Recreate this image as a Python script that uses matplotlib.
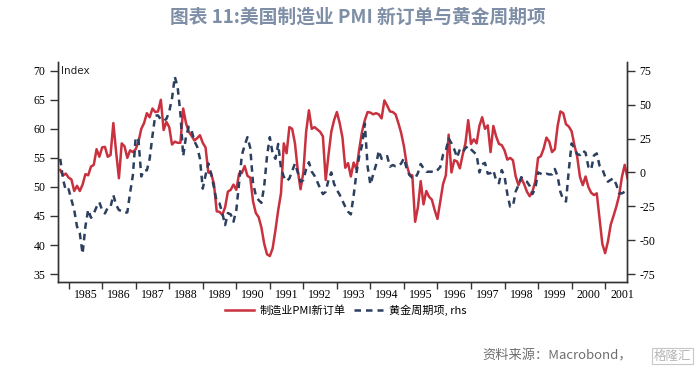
import numpy as np
import matplotlib
matplotlib.use('Agg')
import matplotlib.pyplot as plt
import matplotlib.transforms as mtransforms

plt.rcParams['font.family'] = ['Noto Sans CJK SC', 'DejaVu Sans']

# monthly values, first month = Oct of the first labelled year minus one
start_year = 1984.75
pmi_new_orders = [
    52.9, 52.0, 52.3, 51.6, 51.3, 49.3, 50.2, 49.3, 50.4, 52.2, 52.0, 53.5,
    53.8, 56.5, 55.2, 56.8, 56.9, 55.2, 55.5, 61.0, 56.0, 51.5, 57.5, 57.0,
    55.0, 56.3, 56.0, 56.5, 57.8, 60.0, 61.0, 62.7, 62.0, 63.5, 62.9, 63.0,
    65.0, 59.8, 61.2, 60.3, 57.3, 57.8, 57.6, 57.6, 63.5, 61.0, 59.5, 58.8,
    58.0, 58.4, 58.9, 57.6, 56.8, 52.5, 52.3, 50.5, 45.8, 45.7, 45.2, 46.5,
    49.2, 49.5, 50.4, 49.5, 52.3, 52.4, 53.6, 51.9, 51.6, 47.5, 45.5, 44.8,
    43.0, 40.2, 38.4, 38.1, 39.4, 42.5, 46.0, 48.9, 57.5, 55.8, 60.3, 60.0,
    57.5, 52.9, 49.6, 52.5, 59.5, 63.2, 60.0, 60.3, 59.9, 59.5, 58.7, 51.2,
    55.5, 59.5, 61.5, 62.9, 61.0, 58.5, 53.3, 54.1, 51.8, 54.2, 53.0, 56.5,
    59.5, 61.5, 62.9, 62.8, 62.5, 62.7, 62.5, 61.8, 64.9, 64.0, 63.0, 62.9,
    62.5, 61.0, 59.3, 57.0, 53.8, 52.1, 52.0, 44.0, 46.5, 51.0, 47.0, 49.3,
    48.3, 47.8, 46.0, 44.5, 47.5, 50.5, 52.0, 59.0, 52.5, 54.6, 54.4, 53.2,
    55.5, 57.5, 61.5, 57.4, 58.2, 57.5, 60.5, 62.0, 60.0, 60.6, 56.0, 60.5,
    58.7, 57.4, 57.2, 56.3, 54.7, 55.0, 54.6, 51.8, 50.3, 51.5, 50.5, 49.2,
    48.4, 49.2, 51.0, 55.0, 55.3, 56.6, 58.5, 57.8, 56.0, 56.5, 60.5, 63.0,
    62.7, 60.8, 60.4, 59.6, 57.2, 55.2, 51.7, 50.3, 51.8, 50.0, 49.0, 48.6,
    48.9, 44.5, 40.2, 38.6, 40.6, 43.5, 45.0, 46.6, 48.5, 51.7, 53.8, 51.5,
]
gold_cycle = [
    10.0, -5.0, -13.5, -12.5, -20.0, -27.8, -40.0, -45.0, -60.0, -40.0, -27.5, -33.5,
    -30.3, -25.5, -22.0, -28.0, -30.3, -26.0, -25.5, -16.7, -24.0, -27.8, -28.5, -30.0,
    -29.5, -15.0, -2.0, 26.0, 24.0, -3.0, 1.7, 1.5, 10.0, 27.0, 42.0, 42.0,
    39.0, 38.0, 39.5, 44.8, 54.6, 70.6, 63.0, 43.5, 12.0, 26.3, 33.7, 31.0,
    23.0, 19.0, 10.0, -12.0, -2.0, 6.6, -1.0, -11.0, -21.6, -22.9, -30.0, -38.9,
    -30.0, -31.0, -36.4, -28.0, -8.0, 12.8, 20.0, 26.0, 18.0, -8.0, -17.0, -20.5,
    -22.5, -10.0, 12.0, 26.0, 14.0, 10.0, 21.0, 3.0, -3.2, -6.5, -4.5, 1.0,
    6.5, 0.0, -7.0, -5.7, 2.5, 7.5, 0.5, -2.5, -7.0, -11.8, -16.0, -14.3,
    -5.5, 0.0, -8.5, -13.0, -16.5, -21.0, -25.3, -29.0, -31.0, -17.0, -0.5, 12.0,
    20.0, 36.0, 4.2, -9.0, -1.5, 5.5, 16.0, 10.0, 10.0, 12.0, 4.2, 5.4,
    4.5, 4.5, 6.6, 10.5, 2.5, -2.0, -4.0, -4.5, -0.5, 6.2, 3.0, 0.5,
    0.5, 0.5, 0.0, 1.7, 4.0, 13.0, 16.0, 25.0, 21.5, 17.0, 11.0, 17.0,
    15.0, 17.8, 19.5, 17.0, 15.0, 13.0, 0.0, 6.0, 7.0, -1.0, -0.5, 1.5,
    -6.0, -8.0, 1.7, -3.0, -16.0, -25.3, -25.0, -14.0, -9.4, -3.5, -6.0, -6.9,
    -10.0, -16.0, -11.8, 0.0, -1.0, -2.0, -1.0, -1.5, -1.5, 2.5, -3.0, -14.5,
    -20.0, -21.5, 1.7, 21.4, 18.0, 13.5, 12.8, 16.0, 14.5, 4.2, 2.0, 12.5,
    14.0, 5.0, 2.5, -3.2, -6.9, -5.5, -4.4, -9.0, -15.5, -15.5, -14.3, -14.3,
]
year_labels = list(range(1985, 2002))
left_ticks = [35, 40, 45, 50, 55, 60, 65, 70]
right_ticks = [-75, -50, -25, 0, 25, 50, 75]

title = '图表 11:美国制造业 PMI 新订单与黄金周期项'
red = '#C9313F'
navy = '#2C3F5E'
tick_font = {'family': 'Liberation Serif', 'size': 8.5}

t = start_year + np.arange(len(pmi_new_orders)) / 12

fig = plt.figure(figsize=(7, 3.74), dpi=100)
ax = fig.add_axes([0.0829, 0.246, 0.8129, 0.588])
ax2 = ax.twinx()

l1, = ax.plot(t, pmi_new_orders, color=red, lw=1.8, zorder=2)
l2, = ax2.plot(t, gold_cycle, color=navy, lw=1.8, linestyle=(0, (2.6, 2.0)))

ax.set_xlim(1984.684, 2001.654)
ax.set_ylim(33.63, 71.5)
ax2.set_ylim(-80.9, 81.4)

ax.set_xticks(year_labels)
ax.set_xticklabels([])
ax.set_xticks([y + 0.5 for y in year_labels], minor=True)
ax.set_xticklabels([str(y) for y in year_labels], minor=True, fontdict=tick_font)
ax.tick_params(axis='x', which='major', direction='out', length=5, width=1, color='#333333')
ax.tick_params(axis='x', which='minor', length=0, pad=5)

ax.set_yticks(left_ticks)
ax.set_yticklabels([str(v) for v in left_ticks], fontdict=tick_font)
ax.tick_params(axis='y', direction='out', length=6, width=1, color='#333333', pad=3)
ax2.set_yticks(right_ticks)
ax2.set_yticklabels([str(v) for v in right_ticks], fontdict=tick_font)
ax2.tick_params(axis='y', direction='out', length=6, width=1, color='#333333', pad=3)

for a in (ax, ax2):
    a.spines['top'].set_visible(False)
    for s in ('left', 'right', 'bottom'):
        a.spines[s].set_color('#333333')
        a.spines[s].set_linewidth(1)

trans = mtransforms.blended_transform_factory(ax.transAxes, ax.transData)
ax.text(0.006, 70, 'Index', transform=trans, va='center', ha='left',
        fontsize=7.5, family='DejaVu Sans', color='#222222')

fig.text(0.511, 0.953, title, ha='center', va='center', fontsize=13.5,
         fontweight='bold', color='#7D8EA6')

fig.legend([l1, l2], ['制造业PMI新订单', '黄金周期项, rhs'], loc='center',
           bbox_to_anchor=(0.494, 0.171), ncol=2, frameon=False, fontsize=8,
           handlelength=2.6, columnspacing=0.8, handletextpad=0.5)

fig.text(0.903, 0.048, '资料来源：Macrobond，', ha='right', va='center',
         fontsize=9.5, color='#6E6E6E')
fig.text(0.987, 0.048, '格隆汇', ha='right', va='center', fontsize=9,
         color='#B5B5B5', bbox=dict(boxstyle='square,pad=0.15', fc='white',
                                     ec='#C8C8C8', lw=0.8))

fig.savefig('out.png', dpi=100)
